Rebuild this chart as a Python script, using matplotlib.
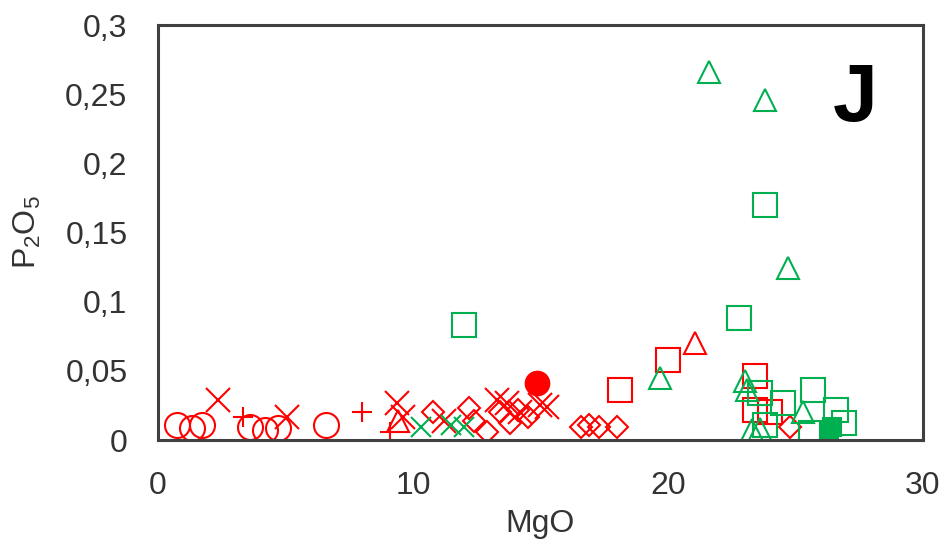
import matplotlib
matplotlib.use('Agg')
import matplotlib.pyplot as plt
from matplotlib.ticker import FuncFormatter

plt.rcParams['font.family'] = ['Liberation Sans', 'DejaVu Sans']
plt.rcParams['mathtext.default'] = 'regular'

RED = '#ff0000'
GREEN = '#00b050'

# red series (MgO, P2O5)
red_circle_x = [0.75, 1.33, 1.73, 3.6, 4.2, 4.7, 6.6]
red_circle_y = [0.011, 0.009, 0.011, 0.0094, 0.0072, 0.0087, 0.011]

red_x_x = [2.35, 5.06, 9.37, 9.6, 11.2, 13.3, 13.7, 14.2, 15.0, 15.25]
red_x_y = [0.029, 0.017, 0.027, 0.017, 0.014, 0.029, 0.027, 0.020, 0.025, 0.024]

red_plus_x = [3.33, 8.0, 9.1]
red_plus_y = [0.017, 0.020, 0.006]

red_tri_x = [9.4, 21.06]
red_tri_y = [0.014, 0.070]

red_diam_x = [10.8, 12.2, 12.4, 12.9, 13.4, 13.8, 14.1, 14.5, 16.6, 16.9, 17.3, 18.0, 24.8]
red_diam_y = [0.020, 0.023, 0.014, 0.006, 0.020, 0.012, 0.022, 0.017, 0.0094, 0.011, 0.0094, 0.0094, 0.0094]

red_sq_x = [18.1, 20.0, 23.4, 23.4, 24.0]
red_sq_y = [0.036, 0.058, 0.046, 0.022, 0.020]

red_dot_x = [14.86]
red_dot_y = [0.041]

# green series
green_x_x = [10.3, 11.5, 12.0]
green_x_y = [0.0094, 0.011, 0.0094]

green_tri_x = [21.6, 23.8, 24.7, 19.7, 23.0, 23.1, 23.3, 23.6, 25.3]
green_tri_y = [0.266, 0.246, 0.124, 0.045, 0.043, 0.036, 0.007, 0.008, 0.020]

green_sq_x = [12.0, 22.8, 23.8, 23.6, 23.8, 24.5, 25.7, 25.6, 26.6, 26.9]
green_sq_y = [0.083, 0.088, 0.170, 0.034, 0.011, 0.027, 0.036, 0.005, 0.022, 0.012]

green_fill_x = [26.3, 26.45]
green_fill_y = [0.006, 0.0094]

fig = plt.figure(figsize=(9.46, 5.56), dpi=100)
ax = fig.add_axes([0.167, 0.2086, 0.8087, 0.7464])

lw = 1.5
ax.plot(red_circle_x, red_circle_y, 'o', ms=18, mfc='none', mec=RED, mew=lw)
ax.plot(red_x_x, red_x_y, 'x', ms=17, mec=RED, mew=lw)
ax.plot(red_plus_x, red_plus_y, '+', ms=15, mec=RED, mew=lw)
ax.plot(red_tri_x, red_tri_y, '^', ms=16, mfc='none', mec=RED, mew=lw)
ax.plot(red_diam_x, red_diam_y, 'D', ms=11.5, mfc='none', mec=RED, mew=lw)
ax.plot(red_sq_x, red_sq_y, 's', ms=17, mfc='none', mec=RED, mew=lw)
ax.plot(red_dot_x, red_dot_y, 'o', ms=17, mfc=RED, mec=RED, mew=lw)

ax.plot(green_x_x, green_x_y, 'x', ms=15, mec=GREEN, mew=lw)
ax.plot(green_tri_x, green_tri_y, '^', ms=16, mfc='none', mec=GREEN, mew=lw)
ax.plot(green_sq_x, green_sq_y, 's', ms=17, mfc='none', mec=GREEN, mew=lw)
ax.plot(green_fill_x, green_fill_y, 's', ms=13, mfc=GREEN, mec=GREEN, mew=lw)

ax.set_xlim(0, 30)
ax.set_ylim(0, 0.3)
ax.set_xticks([0, 10, 20, 30])
ax.set_yticks([0, 0.05, 0.1, 0.15, 0.2, 0.25, 0.3])
ax.yaxis.set_major_formatter(FuncFormatter(lambda v, p: ('%g' % round(v, 2)).replace('.', ',')))

for s in ax.spines.values():
    s.set_color('#404040')
    s.set_linewidth(2.2)
ax.tick_params(length=0, labelsize=23, colors='#404040', labelcolor='#333333')
ax.tick_params(axis='x', pad=22)
ax.tick_params(axis='y', pad=22)

ax.set_xlabel('MgO', fontsize=23, color='#333333', labelpad=6)
ax.set_ylabel('P$_2$O$_5$', fontsize=23, color='#333333', labelpad=16)

ax.text(0.911, 0.82, 'J', transform=ax.transAxes, fontsize=58, fontweight='bold',
        ha='center', va='center', color='black')

fig.savefig('out.png', dpi=100)
